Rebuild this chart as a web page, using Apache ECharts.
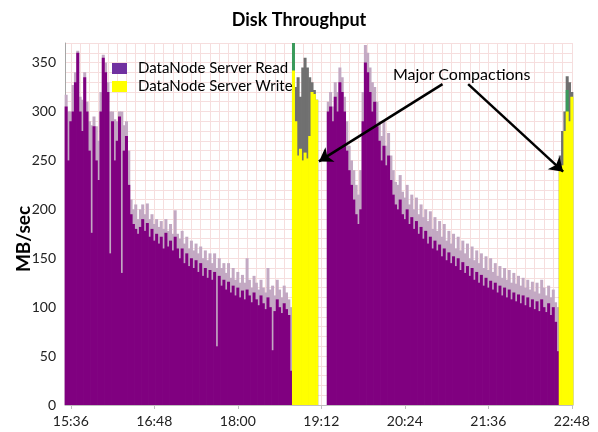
<!DOCTYPE html>
<html><head><meta charset="utf-8">
<script src="https://cdn.jsdelivr.net/npm/echarts@6/dist/echarts.min.js"></script>
<style>html,body{margin:0;padding:0;background:#fff}#c{width:598px;height:432px}</style>
</head><body><div id="c"></div>
<script>
// time in minutes since midnight, one sample every STEP minutes
const STEP = 2;
const readStart1 = 932, writeStart1 = 1128, readStart2 = 1158, writeStart2 = 1358;

const read1 = [305,250,290,300,330,360,300,280,335,300,
  260,176,285,250,230,300,355,340,320,155,
  290,250,270,295,135,260,275,225,195,185,
  180,175,182,190,178,186,172,180,168,175,
  165,172,160,176,162,168,158,172,160,150,
  160,145,155,142,150,140,148,136,145,132,
  140,130,138,128,136,60,132,122,128,118,
  126,115,122,112,120,110,117,108,118,112,
  105,115,108,102,112,104,98,110,100,56,
  96,108,100,94,104,98,92,35];
const readPeak1 = [317,300,300,327,340,362,315,312,340,310,
  290,286,295,285,270,320,358,350,330,300,
  300,292,290,300,300,286,290,260,210,200,
  205,190,200,205,195,206,190,195,185,190,
  182,188,180,190,178,185,175,199,175,170,
  178,165,172,160,168,158,165,155,162,150,
  158,148,155,145,155,140,150,140,145,135,
  145,130,140,128,136,125,133,125,150,128,
  120,132,125,118,128,120,115,140,118,122,
  112,128,118,110,122,115,108,100];
const write1 = [342,290,255,262,250,258,252,275,320,318,312];
const writePeak1 = [345,325,335,315,345,355,345,335,330,322,312];
const writeGreen1 = [370,0,0,0,0,0,0,0,0,0,0];

const read2 = [300,305,290,315,300,330,320,300,260,240,
  225,210,195,185,200,290,350,340,320,300,
  310,285,270,250,265,245,255,230,215,205,
  200,210,195,190,200,185,192,180,188,175,
  182,170,178,165,172,160,168,158,164,152,
  160,148,156,145,152,142,150,138,146,135,
  142,132,140,128,136,125,133,122,130,120,
  127,118,125,115,122,112,120,110,118,108,
  115,106,113,104,112,102,110,100,108,98,
  106,96,108,100,95,104,92,100,85,55];
const readPeak2 = [310,320,305,330,320,345,335,315,290,265,
  250,240,225,215,240,320,368,360,345,330,
  325,310,290,275,290,265,278,255,240,228,
  225,235,218,212,225,205,215,200,212,195,
  205,192,200,188,198,180,192,178,188,172,
  185,168,178,165,175,160,172,158,168,155,
  165,150,162,148,158,145,155,140,152,138,
  150,136,145,132,142,130,140,128,138,125,
  135,124,132,122,130,120,128,118,126,116,
  125,114,128,120,112,122,110,118,105,100];
const write2 = [240,245,280,300,290,315];
const writePeak2 = [255,280,300,336,330,320];
const writeGreen2 = [0,0,0,322,0,0];

const xMin = 931, xMax = 1369;
const xTickValues = [936,1008,1080,1152,1224,1296,1368];
const xGridValues = [];
for (let t = 936; t <= 1368; t += 8) xGridValues.push(t);
const yMax = 370;

const arrowLeft = [[1256.5, 328], [1150, 249]];
const arrowRight = [[1278.6, 328], [1360.5, 238.5]];
const noteLabel = 'Major Compactions';
const notePos = [1273, 337];

function pairs(start, arr) { return arr.map((v, i) => [start + i * STEP, v]); }
function hhmm(v) { const h = Math.floor(v / 60), m = Math.round(v % 60); return h + ':' + (m < 10 ? '0' : '') + m; }

const FONT = 'Lato, "Open Sans", sans-serif';
const barBase = { type: 'bar', barWidth: 3, barGap: '-100%', silent: true, animation: false };

const chart = echarts.init(document.getElementById('c'), null, { renderer: 'canvas' });
chart.setOption({
  animation: false,
  backgroundColor: '#fff',
  title: { text: 'Disk Throughput', left: 'center', top: 6,
    textStyle: { fontFamily: FONT, fontWeight: 'bold', fontSize: 18, color: '#000' } },
  legend: {
    orient: 'vertical', left: 107, top: 56, itemWidth: 15, itemHeight: 11, itemGap: 3, icon: 'rect',
    textStyle: { fontFamily: FONT, fontSize: 15, color: '#000', padding: [0, 0, 0, 6] },
    data: [{ name: 'DataNode Server Read', itemStyle: { color: '#7030a0' } },
           { name: 'DataNode Server Write', itemStyle: { color: '#ffff00' } }]
  },
  grid: { left: 65, right: 25, top: 43, bottom: 27 },
  xAxis: [{
    type: 'value', min: xMin, max: xMax,
    axisLine: { show: true, lineStyle: { color: '#bfbfbf', width: 1 } },
    axisTick: { show: true, customValues: xTickValues, length: 4, lineStyle: { color: '#bfbfbf' } },
    axisLabel: { customValues: xTickValues, formatter: hhmm, fontFamily: FONT, fontSize: 14, color: '#222', margin: 9 },
    splitLine: { show: false }
  }, {
    type: 'value', min: xMin, max: xMax, position: 'bottom',
    axisLine: { show: false }, axisLabel: { show: false },
    axisTick: { show: false, customValues: xGridValues },
    splitLine: { show: true, lineStyle: { color: '#f6dede', width: 1 } }
  }],
  yAxis: {
    type: 'value', min: 0, max: yMax, interval: 10,
    axisLine: { show: true, lineStyle: { color: '#a6a6a6' } },
    axisTick: { show: false },
    axisLabel: { formatter: v => (v % 50 === 0 ? String(v) : ''), fontFamily: FONT, fontSize: 14, color: '#222', margin: 9 },
    splitLine: { show: true, lineStyle: { color: '#f6dede', width: 1 } }
  },
  graphic: [{
    type: 'text', x: 24, y: 239, rotation: Math.PI / 2,
    style: { text: 'MB/sec', font: 'bold 19px ' + FONT, fill: '#000', align: 'center', verticalAlign: 'middle' }
  }],
  series: [
    Object.assign({}, barBase, { name: 'Read peaks', itemStyle: { color: '#c3a9c3' },
      data: pairs(readStart1, readPeak1).concat(pairs(readStart2, readPeak2)) }),
    Object.assign({}, barBase, { name: 'Write peaks', itemStyle: { color: '#707070' },
      data: pairs(writeStart1, writePeak1).concat(pairs(writeStart2, writePeak2)) }),
    Object.assign({}, barBase, { name: 'Write other', itemStyle: { color: '#3a9a5a' },
      data: pairs(writeStart1, writeGreen1).concat(pairs(writeStart2, writeGreen2)) }),
    Object.assign({}, barBase, { name: 'DataNode Server Read', itemStyle: { color: '#800080' },
      data: pairs(readStart1, read1).concat(pairs(readStart2, read2)) }),
    Object.assign({}, barBase, { name: 'DataNode Server Write', itemStyle: { color: '#ffff00' },
      data: pairs(writeStart1, write1).concat(pairs(writeStart2, write2)),
      markLine: {
        silent: true, symbol: ['none', 'arrow'], symbolSize: 13,
        lineStyle: { color: '#000', width: 2.5, type: 'solid', opacity: 1 }, label: { show: false },
        data: [
          [{ coord: arrowLeft[0] }, { coord: arrowLeft[1] }],
          [{ coord: arrowRight[0] }, { coord: arrowRight[1] }]
        ]
      },
      markPoint: {
        silent: true, symbol: 'rect', symbolSize: 1, itemStyle: { color: 'rgba(0,0,0,0)' },
        label: { show: true, position: 'inside', formatter: noteLabel, fontFamily: FONT, fontSize: 16, color: '#000' },
        data: [{ coord: notePos }]
      }
    })
  ]
});
</script>
</body></html>
